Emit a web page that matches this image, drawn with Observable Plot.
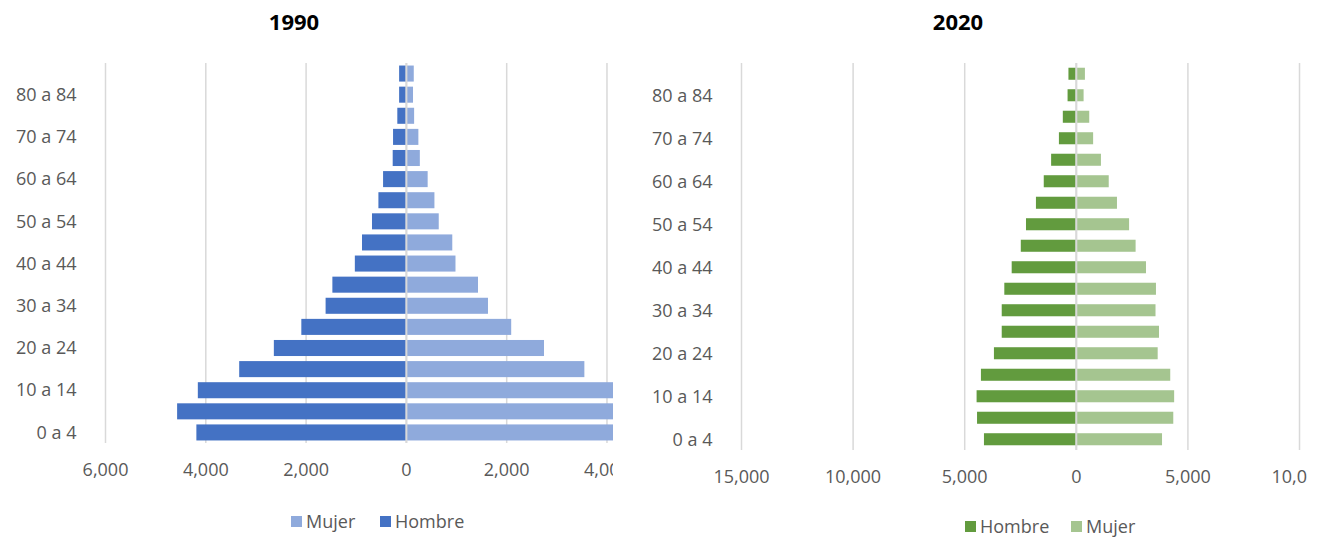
<!DOCTYPE html>
<html>
<head>
<meta charset="utf-8">
<script src="https://cdn.jsdelivr.net/npm/d3@7"></script>
<script src="https://cdn.jsdelivr.net/npm/@observablehq/plot@0.6"></script>
<style>
  html, body { margin: 0; padding: 0; background: #fff; }
  #wrap { position: relative; width: 1321px; height: 539px; overflow: hidden; font-family: "Open Sans", sans-serif; }
  .chart { position: absolute; top: 0; }
  .title { position: absolute; font-weight: bold; font-size: 22px; color: #000; transform: translate(-50%, -50%); white-space: nowrap; }
  .leg { position: absolute; display: flex; align-items: center; font-size: 18px; color: #595959; transform: translateY(-50%); white-space: nowrap; }
  .leg .sw { width: 11px; height: 11px; margin-right: 4px; }
</style>
</head>
<body>
<div id="wrap">
  <div id="c1" class="chart" style="left:0px"></div>
  <div id="c2" class="chart" style="left:640px"></div>
  <div class="title" style="left:294px; top:21px">1990</div>
  <div class="title" style="left:958px; top:21px">2020</div>
  <div class="leg" style="left:291px; top:521px"><div class="sw" style="background:#8FAADC"></div>Mujer</div>
  <div class="leg" style="left:380px; top:521px"><div class="sw" style="background:#4472C4"></div>Hombre</div>
  <div class="leg" style="left:965px; top:526px"><div class="sw" style="background:#629B3E"></div>Hombre</div>
  <div class="leg" style="left:1071px; top:526px"><div class="sw" style="background:#A5C590"></div>Mujer</div>
</div>
<script>
const ages = ["0 a 4","5 a 9","10 a 14","15 a 19","20 a 24","25 a 29","30 a 34","35 a 39","40 a 44","45 a 49","50 a 54","55 a 59","60 a 64","65 a 69","70 a 74","75 a 79","80 a 84","85 y más"];
const hombre1990 = [4178, 4562, 4149, 3324, 2633, 2085, 1601, 1466, 1018, 875, 676, 548, 455, 263, 256, 171, 135, 135];
const mujer1990  = [4150, 4400, 4250, 3559, 2754, 2100, 1637, 1438, 989, 925, 655, 569, 434, 278, 249, 164, 142, 157];
const hombre2020 = [4115, 4425, 4445, 4251, 3668, 3319, 3319, 3203, 2873, 2465, 2232, 1786, 1436, 1106, 757, 582, 369, 330];
const mujer2020  = [3863, 4367, 4406, 4231, 3668, 3727, 3571, 3591, 3144, 2679, 2387, 1844, 1475, 1126, 776, 602, 349, 408];
const ticks1990 = [-6000, -4000, -2000, 0, 2000, 4000];
const ticks2020 = [-15000, -10000, -5000, 0, 5000, 10000];
const ageTicks = ages.filter((d, i) => i % 2 === 0);

const fmt = d => d3.format(",")(Math.abs(d));

function pyramid({hombre, mujer, colH, colM, domain, ticks, width, height, marginTop, marginBottom, marginLeft, padding}) {
  const rows = ages.map((a, i) => ({age: a, h: hombre[i], m: mujer[i]}));
  return Plot.plot({
    width, height, marginTop, marginBottom, marginLeft, marginRight: 0,
    style: {fontFamily: "Open Sans, sans-serif", fontSize: "18px", color: "#595959", background: "transparent"},
    x: {domain, ticks, label: null},
    y: {domain: ages.slice().reverse(), paddingInner: padding, paddingOuter: padding / 2, round: false, label: null},
    marks: [
      Plot.gridX(ticks, {stroke: "#D9D9D9", strokeOpacity: 1, strokeWidth: 1.5}),
      Plot.barX(rows, {y: "age", x1: 0, x2: d => -d.h, fill: colH}),
      Plot.barX(rows, {y: "age", x1: 0, x2: d => d.m, fill: colM}),
      Plot.ruleX([0], {stroke: "#D9D9D9", strokeWidth: 2}),
      Plot.axisX({ticks, tickFormat: fmt, tickSize: 0, tickPadding: 20, label: null, fill: "#595959"}),
      Plot.axisY({ticks: ageTicks, tickSize: 0, tickPadding: 29, label: null, fill: "#595959"})
    ]
  });
}

document.getElementById("c1").append(pyramid({
  hombre: hombre1990, mujer: mujer1990, colH: "#4472C4", colM: "#8FAADC",
  domain: [-6000, 4130], ticks: ticks1990, width: 613, height: 500,
  marginTop: 63, marginBottom: 57, marginLeft: 105, padding: 0.24
}));
document.getElementById("c2").append(pyramid({
  hombre: hombre2020, mujer: mujer2020, colH: "#629B3E", colM: "#A5C590",
  domain: [-15000, 10358], ticks: ticks2020, width: 667, height: 505,
  marginTop: 63, marginBottom: 55, marginLeft: 101, padding: 0.44
}));
</script>
</body>
</html>
